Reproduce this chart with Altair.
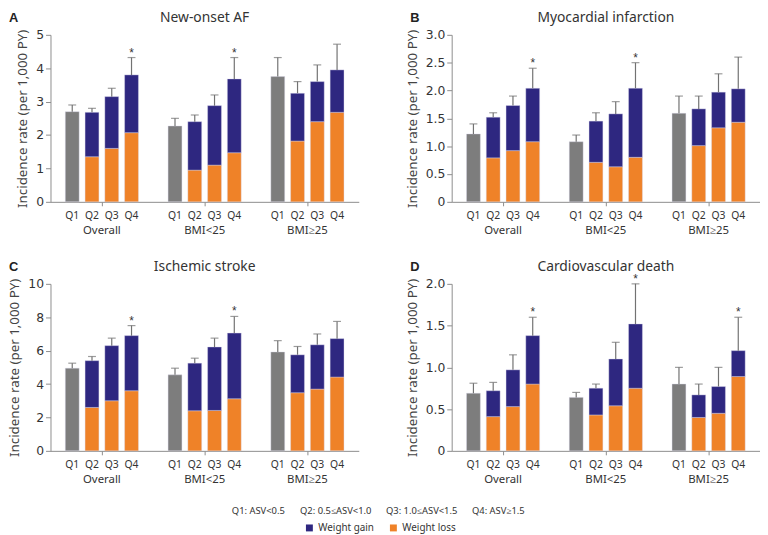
import altair as alt
import pandas as pd

groups = ["Overall", "BMI<25", "BMI≥25"]
quartiles = ["Q1", "Q2", "Q3", "Q4"]

panel_letters = ["A", "B", "C", "D"]
panel_titles = ["New-onset AF", "Myocardial infarction", "Ischemic stroke", "Cardiovascular death"]
y_max = [5, 3.0, 10, 2.0]
y_ticks = [
    [0, 1, 2, 3, 4, 5],
    [0, 0.5, 1.0, 1.5, 2.0, 2.5, 3.0],
    [0, 2, 4, 6, 8, 10],
    [0, 0.5, 1.0, 1.5, 2.0],
]
y_formats = ["d", ".1f", "d", ".1f"]

# order: Overall Q1-Q4, BMI<25 Q1-Q4, BMI>=25 Q1-Q4
af_total = [2.70, 2.68, 3.15, 3.80, 2.27, 2.40, 2.88, 3.68, 3.75, 3.25, 3.60, 3.95]
af_loss = [None, 1.35, 1.60, 2.07, None, 0.95, 1.10, 1.47, None, 1.82, 2.40, 2.68]
af_upper = [2.90, 2.80, 3.40, 4.32, 2.50, 2.60, 3.20, 4.32, 4.32, 3.60, 4.10, 4.72]
af_star = [0, 0, 0, 1, 0, 0, 0, 1, 0, 0, 0, 0]

mi_total = [1.22, 1.52, 1.73, 2.04, 1.08, 1.45, 1.58, 2.04, 1.59, 1.67, 1.97, 2.03]
mi_loss = [None, 0.79, 0.92, 1.08, None, 0.71, 0.63, 0.80, None, 1.01, 1.33, 1.43]
mi_upper = [1.40, 1.60, 1.90, 2.40, 1.20, 1.60, 1.80, 2.50, 1.90, 1.90, 2.30, 2.60]
mi_star = [0, 0, 0, 1, 0, 0, 0, 1, 0, 0, 0, 0]

st_total = [4.95, 5.40, 6.30, 6.90, 4.55, 5.25, 6.22, 7.05, 5.92, 5.75, 6.35, 6.72]
st_loss = [None, 2.60, 3.00, 3.60, None, 2.40, 2.42, 3.12, None, 3.48, 3.70, 4.42]
st_upper = [5.25, 5.65, 6.75, 7.50, 4.95, 5.55, 6.75, 8.05, 6.60, 6.25, 7.00, 7.75]
st_star = [0, 0, 0, 1, 0, 0, 0, 1, 0, 0, 0, 0]

cv_total = [0.69, 0.72, 0.97, 1.38, 0.64, 0.75, 1.10, 1.52, 0.80, 0.67, 0.77, 1.20]
cv_loss = [None, 0.41, 0.53, 0.80, None, 0.43, 0.54, 0.75, None, 0.40, 0.45, 0.89]
cv_upper = [0.81, 0.82, 1.15, 1.60, 0.70, 0.80, 1.30, 2.00, 1.00, 0.80, 1.00, 1.60]
cv_star = [0, 0, 0, 1, 0, 0, 0, 1, 0, 0, 0, 1]

totals = [af_total, mi_total, st_total, cv_total]
losses = [af_loss, mi_loss, st_loss, cv_loss]
uppers = [af_upper, mi_upper, st_upper, cv_upper]
stars = [af_star, mi_star, st_star, cv_star]

quartile_defs = ["Q1: ASV<0.5", "Q2: 0.5≤ASV<1.0", "Q3: 1.0≤ASV<1.5", "Q4: ASV≥1.5"]
series_names = ["Weight gain", "Weight loss"]

NAVY = "#2e2780"
ORANGE = "#ef8228"
GRAY = "#7d7d7d"
ERR = "#727272"
AXIS = "#8c8c8c"
W, H = 312, 169
LEG_X, LEG_Y = 257, 494
DEF_X, DEF_Y = 174, 477


def panel(i):
    bar_rows, pt_rows = [], []
    k = 0
    for g in groups:
        for qi, q in enumerate(quartiles):
            tot, loss, up, st = totals[i][k], losses[i][k], uppers[i][k], stars[i][k]
            if loss is None:
                bar_rows.append(dict(group=g, q=q, seg="Q1", y0=0, y1=tot))
            else:
                bar_rows.append(dict(group=g, q=q, seg="Weight loss", y0=0, y1=loss))
                bar_rows.append(dict(group=g, q=q, seg="Weight gain", y0=loss, y1=tot))
            pt_rows.append(dict(group=g, q=q, qdef=quartile_defs[qi], total=tot, upper=up, star=st))
            k += 1
    bars_df = pd.DataFrame(bar_rows)
    pts_df = pd.DataFrame(pt_rows)
    star_df = pts_df[pts_df["star"] == 1]
    letter_df = pd.DataFrame([dict(letter=panel_letters[i])])

    x_axis = alt.Axis(title=None, labelAngle=0, tickSize=4, labelPadding=19,
                      labelFont="Noto Sans", labelFontSize=11.5, labelColor="#333333",
                      domainColor=AXIS, tickColor=AXIS)
    xenc = alt.X("group:N", scale=alt.Scale(domain=groups, paddingInner=0, paddingOuter=0), axis=x_axis)
    xo = alt.XOffset("q:N", scale=alt.Scale(domain=quartiles, paddingInner=0.3, paddingOuter=0.75))
    y_axis = alt.Axis(title="Incidence rate (per 1,000 PY)", values=y_ticks[i], format=y_formats[i],
                      labelExpr="datum.value == 0 ? '0' : datum.label",
                      labelFont="DejaVu Sans", labelFontSize=12.5, labelColor="#333333",
                      titleFont="Noto Sans", titleFontSize=13.5, titleFontWeight="normal",
                      titleColor="#444444", titlePadding=6, tickSize=5,
                      domainColor=AXIS, tickColor=AXIS, grid=False)
    yscale = alt.Scale(domain=[0, y_max[i]], nice=False, zero=True)

    bars = alt.Chart(bars_df).mark_bar(stroke="#d8d6ea", strokeWidth=0.4).encode(
        x=xenc, xOffset=xo,
        y=alt.Y("y0:Q", scale=yscale, axis=y_axis),
        y2="y1:Q",
        color=alt.Color("seg:N",
                        scale=alt.Scale(domain=series_names + ["Q1"], range=[NAVY, ORANGE, GRAY]),
                        legend=alt.Legend(orient="none", legendX=LEG_X, legendY=LEG_Y, direction="horizontal",
                                          title=None, values=series_names, symbolType="square",
                                          symbolSize=49, symbolStrokeWidth=0, labelFont="Noto Sans",
                                          labelFontSize=10, labelColor="#333333", columnPadding=14,
                                          labelOffset=4)),
    )
    err = alt.Chart(pts_df).mark_rule(color=ERR, strokeWidth=1.2).encode(
        x=xenc, xOffset=xo, y=alt.Y("total:Q", scale=yscale, axis=y_axis), y2="upper:Q",
        strokeDash=alt.StrokeDash("qdef:N",
                                  scale=alt.Scale(domain=quartile_defs, range=[[1, 0]] * 4),
                                  legend=alt.Legend(orient="none", legendX=DEF_X, legendY=DEF_Y,
                                                    direction="horizontal", title=None,
                                                    symbolSize=0, symbolOpacity=0, symbolStrokeWidth=0,
                                                    labelOffset=0, columnPadding=5,
                                                    labelFont="Noto Sans", labelFontSize=9.5,
                                                    labelColor="#333333")),
    )
    cap = alt.Chart(pts_df).mark_tick(color=ERR, orient="horizontal", size=8, thickness=1.2).encode(
        x=xenc, xOffset=xo, y=alt.Y("upper:Q", scale=yscale, axis=y_axis)
    )
    star = alt.Chart(star_df).mark_text(text="*", dy=-5, fontSize=12, color="#333333").encode(
        x=xenc, xOffset=xo, y=alt.Y("upper:Q", scale=yscale, axis=y_axis)
    )
    qlab = alt.Chart(pts_df).mark_text(font="Noto Sans", fontSize=10.5, color="#333333", baseline="middle").encode(
        x=xenc, xOffset=xo, y=alt.value(H + 14), text="q:N"
    )
    letter = alt.Chart(letter_df).mark_text(font="Liberation Sans", fontWeight="bold", fontSize=13,
                                            color="#222222", align="left", baseline="middle").encode(
        x=alt.value(-42), y=alt.value(-17), text="letter:N"
    )
    return alt.layer(bars, err, cap, star, qlab, letter).properties(
        width=W, height=H,
        title=alt.TitleParams(panel_titles[i], anchor="middle", frame="group", offset=-13,
                              font="Noto Sans", fontSize=14, fontWeight="normal", color="#333333"),
    )


chart = alt.vconcat(
    alt.hconcat(panel(0), panel(1), spacing=47),
    alt.hconcat(panel(2), panel(3), spacing=47),
    spacing=24,
).properties(padding=0).configure_view(stroke=None)

chart.save("out.html", embed_options={"renderer": "svg", "actions": False})
